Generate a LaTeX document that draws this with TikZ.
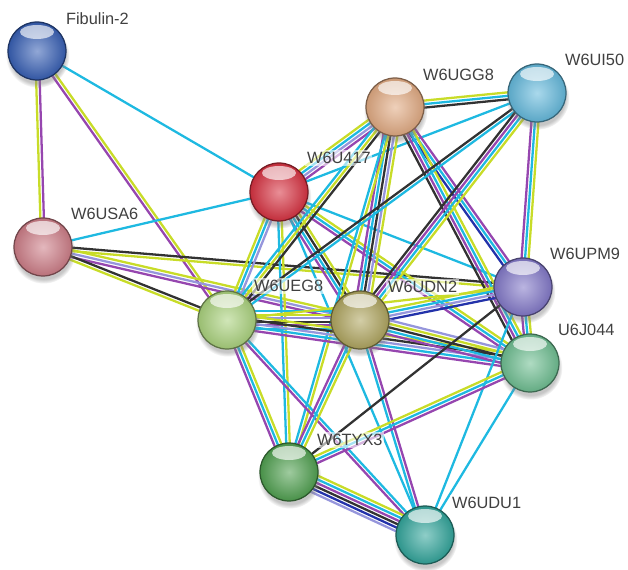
\documentclass[tikz,border=0pt]{standalone}
\usepackage{fontspec}
\setmainfont{Liberation Sans}
\usetikzlibrary{calc}
\usetikzlibrary{shadows}
\usetikzlibrary{backgrounds}

\definecolor{dbcol}{RGB}{30,185,225}
\definecolor{excol}{RGB}{150,70,175}
\definecolor{txcol}{RGB}{200,220,40}
\definecolor{cecol}{RGB}{50,50,50}
\definecolor{cocol}{RGB}{35,50,170}
\definecolor{hocol}{RGB}{150,150,220}

\definecolor{fibcol}{RGB}{55,95,180}
\definecolor{usacol}{RGB}{205,125,135}
\definecolor{u417col}{RGB}{215,50,65}
\definecolor{uggcol}{RGB}{225,170,130}
\definecolor{uicol}{RGB}{100,185,220}
\definecolor{upmcol}{RGB}{130,120,200}
\definecolor{uegcol}{RGB}{170,210,125}
\definecolor{udncol}{RGB}{175,165,95}
\definecolor{jcol}{RGB}{110,190,145}
\definecolor{tyxcol}{RGB}{80,160,80}
\definecolor{uducol}{RGB}{50,165,155}

\tikzset{
  dbase/.style={draw=dbcol},
  exper/.style={draw=excol},
  txt/.style={draw=txcol},
  coexp/.style={draw=cecol},
  cooc/.style={draw=cocol},
  homol/.style={draw=hocol},
  prot/.style={shape=circle, minimum size=1.16cm, inner sep=0pt, draw=#1!55!black, line width=0.7pt,
    inner color=#1!55!white, outer color=#1!90!black,
    path picture={\fill[white, opacity=0.65] ($(path picture bounding box.north)+(0cm,-0.2cm)$) ellipse (0.34cm and 0.14cm);},
    circular drop shadow={shadow xshift=0.3pt, shadow yshift=-2.5pt, opacity=0.45}},
  lbl/.style={font=\fontsize{9.3}{10}\selectfont, text=black!75, anchor=west, inner sep=1pt, fill=white, fill opacity=0.6, text opacity=1}
}

% bundle of parallel lines between two proteins
\newcommand{\strlink}[4]{%
  \foreach \c [count=\i] in {#4}{
    \pgfmathsetmacro{\off}{(\i-(#3+1)/2)*2}
    \draw[\c, line width=1.3pt] ($(#1)!\off pt!90:(#2)$) -- ($(#2)!\off pt!-90:(#1)$);
  }
}

\begin{document}
\begin{tikzpicture}[x=0.02cm, y=-0.02cm]
\useasboundingbox (0,0) rectangle (628,570);

\node [prot=fibcol] (fib) at (37,51) {};
\node [prot=usacol] (usa6) at (43,247) {};
\node [prot=u417col] (u417) at (279,192) {};
\node [prot=uggcol] (ugg8) at (395,107) {};
\node [prot=uicol] (ui50) at (537,93) {};
\node [prot=upmcol] (upm9) at (523,287) {};
\node [prot=uegcol] (ueg8) at (227,320) {};
\node [prot=udncol] (udn2) at (360,320) {};
\node [prot=jcol] (j044) at (530,363) {};
\node [prot=tyxcol] (tyx3) at (289,472) {};
\node [prot=uducol] (udu1) at (425,535) {};

\begin{pgfonlayer}{background}
\strlink{fib}{usa6}{2}{txt,exper}
\strlink{fib}{ueg8}{2}{exper,txt}
\strlink{fib}{u417}{1}{dbase}
\strlink{usa6}{u417}{1}{dbase}
\strlink{usa6}{upm9}{2}{txt,coexp}
\strlink{usa6}{udn2}{3}{exper,homol,txt}
\strlink{usa6}{ueg8}{2}{txt,coexp}
\strlink{u417}{ugg8}{4}{exper,homol,dbase,txt}
\strlink{u417}{ui50}{1}{dbase}
\strlink{u417}{upm9}{1}{dbase}
\strlink{u417}{j044}{3}{exper,dbase,txt}
\strlink{u417}{udn2}{4}{exper,dbase,coexp,txt}
\strlink{u417}{ueg8}{3}{txt,dbase,homol}
\strlink{u417}{tyx3}{2}{dbase,txt}
\strlink{u417}{udu1}{1}{dbase}
\strlink{ugg8}{ui50}{3}{coexp,dbase,txt}
\strlink{ugg8}{ueg8}{3}{dbase,txt,coexp}
\strlink{ugg8}{udn2}{5}{exper,dbase,coexp,homol,txt}
\strlink{ugg8}{upm9}{3}{cooc,dbase,exper}
\strlink{ugg8}{j044}{4}{coexp,exper,dbase,txt}
\strlink{ugg8}{tyx3}{2}{dbase,txt}
\strlink{ui50}{ueg8}{2}{coexp,dbase}
\strlink{ui50}{udn2}{4}{coexp,exper,dbase,txt}
\strlink{ui50}{upm9}{3}{exper,dbase,txt}
\strlink{ueg8}{udn2}{6}{dbase,exper,coexp,homol,txt,dbase}
\strlink{ueg8}{upm9}{1}{txt}
\strlink{ueg8}{j044}{5}{exper,dbase,homol,coexp,txt}
\strlink{ueg8}{tyx3}{3}{exper,dbase,txt}
\strlink{ueg8}{udu1}{2}{exper,dbase}
\strlink{udn2}{upm9}{4}{cooc,homol,dbase,txt}
\strlink{udn2}{j044}{5}{exper,dbase,coexp,txt,homol}
\strlink{udn2}{tyx3}{3}{exper,dbase,txt}
\strlink{udn2}{udu1}{2}{dbase,exper}
\strlink{upm9}{j044}{3}{exper,dbase,txt}
\strlink{upm9}{tyx3}{1}{coexp}
\strlink{upm9}{udu1}{1}{dbase}
\strlink{j044}{tyx3}{3}{txt,dbase,exper}
\strlink{j044}{udu1}{1}{dbase}
\strlink{tyx3}{udu1}{6}{homol,cooc,coexp,exper,dbase,txt}
\end{pgfonlayer}

\node [lbl] (lfib) at (64,19) {Fibulin-2};
\node [lbl] (lusa6) at (69,214) {W6USA6};
\node [lbl] (lu417) at (305,158) {W6U417};
\node [lbl] (lugg8) at (421,75) {W6UGG8};
\node [lbl] (lui50) at (563,60) {W6UI50};
\node [lbl] (lupm9) at (548,254) {W6UPM9};
\node [lbl] (lueg8) at (252,286) {W6UEG8};
\node [lbl] (ludn2) at (386,287) {W6UDN2};
\node [lbl] (lj044) at (556,330) {U6J044};
\node [lbl] (ltyx3) at (315,440) {W6TYX3};
\node [lbl] (ludu1) at (450,503) {W6UDU1};
\end{tikzpicture}
\end{document}
